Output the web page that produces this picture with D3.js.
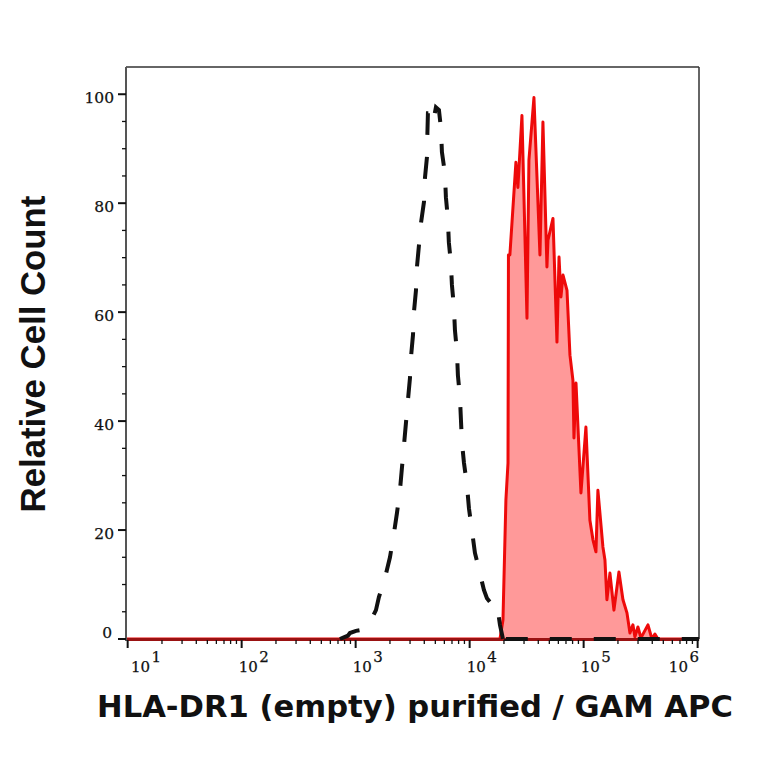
<!DOCTYPE html>
<html>
<head>
<meta charset="utf-8">
<script src="https://cdn.jsdelivr.net/npm/d3@7/dist/d3.min.js"></script>
<style>
  html, body { margin: 0; padding: 0; background: #fff; }
  svg { display: block; }
</style>
</head>
<body>
<svg id="chart" width="764" height="764"></svg>
<script>
// ---- Data ----
// Isotype control histogram (black dashed): fluorescence value, relative count
const controlX = [728, 806, 855, 891, 1006, 1135, 1334, 1507, 1600, 1808, 2000, 2168, 2303, 2447, 2547, 2655, 2761, 2877, 2995, 3057, 3184, 3246, 3381, 3450, 3593, 3741, 3974, 4054, 4220, 4260, 4305, 4483, 4765, 5060, 5378, 5600, 5712, 6067, 6190, 6440, 6570, 6850, 6990, 7280, 7430, 7740, 7890, 8220, 8390, 8560, 8920, 9470, 9860, 10470, 11130, 12300, 13340, 14180, 15060, 16330, 17370, 18450, 19600, 20000, 20800, 1030000];
const controlY = [0, 0.4, 0.6, 1.1, 1.5, 1.7, 3.1, 5.3, 7.7, 11.2, 15.0, 19.4, 23.1, 27.3, 31.4, 35.6, 39.6, 43.9, 47.9, 51.7, 55.8, 60.0, 64.0, 68.3, 72.3, 76.3, 80.2, 84.6, 88.4, 92.8, 96.5, 96.5, 94.7, 97.6, 97.1, 93.8, 89.4, 85.5, 81.1, 77.2, 72.8, 69.0, 65.0, 60.9, 56.7, 52.7, 48.4, 44.4, 40.2, 36.1, 32.3, 28.3, 24.0, 20.0, 15.8, 12.1, 9.0, 7.5, 6.8, 6.2, 6.4, 2.6, 0, 2, 0, 0];

// Stained sample histogram (red filled)
const sampleX = [9.7, 18450, 19600, 20800, 21700, 21900, 22540, 25460, 26500, 28760, 31840, 33120, 36650, 41380, 43950, 47650, 48650, 53830, 58350, 60820, 63240, 65920, 71450, 75860, 80540, 82250, 85700, 94700, 104700, 113500, 120700, 128200, 133400, 147600, 153800, 160000, 170100, 184400, 204000, 221300, 239900, 254800, 270600, 281600, 299300, 318300, 366600, 397400, 422000, 448400, 1030000];
const sampleY = [0, 0, 3.5, 25.5, 32.3, 70.5, 70.5, 87.5, 82.9, 96.1, 58.9, 87.9, 99.4, 70.5, 94.9, 68.3, 73.2, 77.2, 54.5, 70.1, 62.8, 66.8, 64.0, 52.1, 47.5, 36.9, 47.0, 26.8, 38.9, 21.8, 18.2, 16.0, 27.3, 16.9, 14.5, 7.2, 12.1, 5.3, 12.3, 7.2, 4.8, 1.1, 2.6, 0.4, 2.2, 0.2, 2.6, 0, 0.9, 0, 0];

const xTickExponents = [1, 2, 3, 4, 5, 6];
const yTickValues = [0, 20, 40, 60, 80, 100];
const xDomain = [9.67, 1028000];
const yDomain = [0, 105];
const xTitle = "HLA-DR1 (empty) purified / GAM APC";
const yTitle = "Relative Cell Count";

(function () {
// ---- Layout ----
const svg = d3.select("#chart");
const pL = 126, pR = 699, pT = 67, pB = 639;
const tickFont = "DejaVu Serif, Liberation Serif, serif";

const x = d3.scaleLog().domain(xDomain).range([pL, pR]);
const y = d3.scaleLinear().domain(yDomain).range([pB, pT]);

const control = controlX.map((v, i) => ({ x: v, y: controlY[i] }));
const sample = sampleX.map((v, i) => ({ x: v, y: sampleY[i] }));

const area = d3.area().x(d => x(d.x)).y0(y(0)).y1(d => y(d.y));
const line = d3.line().x(d => x(d.x)).y(d => y(d.y));

// Red filled histogram
svg.append("path")
  .datum(sample)
  .attr("d", area)
  .attr("fill", "#ff9999");

svg.append("path")
  .datum(sample)
  .attr("d", line)
  .attr("fill", "none")
  .attr("stroke", "#ee0a0a")
  .attr("stroke-width", 3)
  .attr("stroke-linejoin", "round");

// Frame: top and right borders
svg.append("line").attr("x1", pL).attr("x2", pR).attr("y1", pT).attr("y2", pT)
  .attr("stroke", "#333").attr("stroke-width", 1.5);
svg.append("line").attr("x1", pR).attr("x2", pR).attr("y1", pT).attr("y2", pB)
  .attr("stroke", "#333").attr("stroke-width", 1.5);

// Bottom axis (dark red from overlap of baseline)
svg.append("line").attr("x1", pL).attr("x2", pR).attr("y1", pB + 0.5).attr("y2", pB + 0.5)
  .attr("stroke", "#9a1212").attr("stroke-width", 3);

// Black dashed control histogram (drawn on top)
svg.append("path")
  .datum(control)
  .attr("d", line)
  .attr("fill", "none")
  .attr("stroke", "#111")
  .attr("stroke-width", 4)
  .attr("stroke-dasharray", "22,22");

// Left axis line
svg.append("line").attr("x1", pL).attr("x2", pL).attr("y1", pT).attr("y2", pB + 2)
  .attr("stroke", "#555").attr("stroke-width", 2);

// Y ticks
const yMinor = d3.range(0, 101, 5);
svg.append("g").selectAll("line").data(yMinor).join("line")
  .attr("x1", d => pL - (d % 20 === 0 ? 8 : 4))
  .attr("x2", pL)
  .attr("y1", d => y(d)).attr("y2", d => y(d))
  .attr("stroke", "#111")
  .attr("stroke-width", d => d % 20 === 0 ? 2 : 1.3);

svg.append("g").selectAll("text").data(yTickValues).join("text")
  .attr("x", d => d === 0 ? 112 : 114)
  .attr("y", d => y(d) + (d === 0 ? -1 : 8.5))
  .attr("text-anchor", "end")
  .attr("font-family", tickFont)
  .attr("font-size", 15.5)
  .attr("fill", "#111")
  .attr("stroke", "#111")
  .attr("stroke-width", 0.25)
  .text(d => d);

// X ticks (log, with minors)
const xMinor = [];
for (let e = 1; e <= 6; e++) {
  for (let m = 1; m <= 9; m++) {
    const v = m * Math.pow(10, e);
    if (v >= xDomain[0] && v <= xDomain[1]) xMinor.push({ v, major: m === 1 });
  }
}
svg.append("g").selectAll("line").data(xMinor).join("line")
  .attr("x1", d => x(d.v)).attr("x2", d => x(d.v))
  .attr("y1", pB + 1)
  .attr("y2", d => pB + (d.major ? 9 : 5))
  .attr("stroke", "#111")
  .attr("stroke-width", d => d.major ? 2 : 1.3);

const xLabels = svg.append("g").selectAll("text").data(xTickExponents).join("text")
  .attr("x", d => x(Math.pow(10, d)) - 3)
  .attr("y", 672)
  .attr("text-anchor", "start")
  .attr("font-family", tickFont)
  .attr("font-size", 15)
  .attr("fill", "#111")
  .attr("stroke", "#111")
  .attr("stroke-width", 0.25);
xLabels.append("tspan").text("10");
xLabels.append("tspan").attr("dy", -10).attr("dx", 1.5).attr("font-size", 15).text(d => d);

// keep labels inside plot span
xLabels.each(function () {
  const bb = this.getBBox();
  let cx = +this.getAttribute("x");
  if (bb.x < 131) cx += 131 - bb.x;
  if (bb.x + bb.width > 699) cx -= (bb.x + bb.width) - 699;
  this.setAttribute("x", cx);
});

// Axis titles (fit to measured extents in reference)
function fitText(sel, targetWidth) {
  const w = sel.node().getComputedTextLength();
  const fs = parseFloat(sel.attr("font-size"));
  sel.attr("font-size", fs * targetWidth / w);
}

const xt = svg.append("text")
  .attr("x", 415).attr("y", 717)
  .attr("text-anchor", "middle")
  .attr("font-family", "DejaVu Sans, Verdana, sans-serif")
  .attr("font-weight", "bold")
  .attr("font-size", 30)
  .attr("fill", "#111")
  .text(xTitle);
fitText(xt, 636);

const yt = svg.append("text")
  .attr("transform", "translate(45,354) rotate(-90)")
  .attr("text-anchor", "middle")
  .attr("font-family", "Liberation Sans, Arial, sans-serif")
  .attr("font-weight", "bold")
  .attr("font-size", 34)
  .attr("fill", "#111")
  .text(yTitle);
fitText(yt, 317);
})();
</script>
</body>
</html>
